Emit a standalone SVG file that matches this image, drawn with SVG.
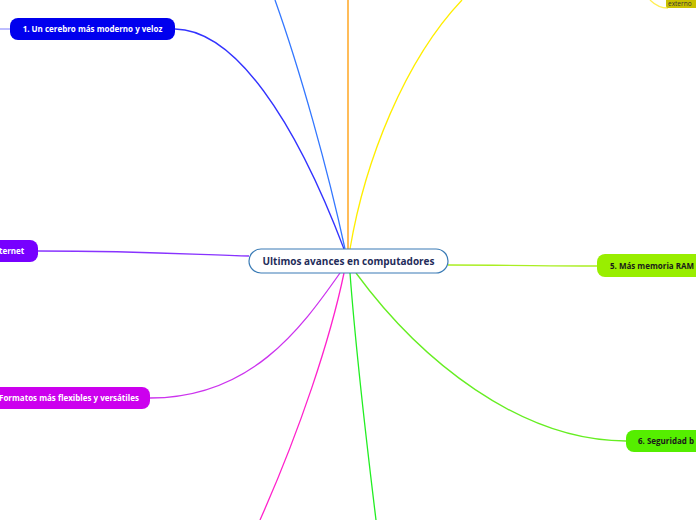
<svg xmlns="http://www.w3.org/2000/svg" width="696" height="520" viewBox="0 0 696 520">
<style>
.c{fill:none;stroke-width:1.3}
.t{font-family:"Open Sans","Noto Sans","Liberation Sans",sans-serif;font-weight:bold;font-size:8px;fill:#fff;text-anchor:middle}
.d{fill:#1a1a1a}
</style>
<rect width="696" height="520" fill="#fff"/>
<g id="connectors">
<path class="c" stroke="#9a9aff" d="M0,29 L10,29"/>
<path class="c" stroke="#3333ff" d="M175,29 C235,30 295,120 344,249"/>
<path class="c" stroke="#3377ff" d="M275,0 C300,70 328,170 345,249"/>
<path class="c" stroke="#ff9900" d="M348,0 L348,249"/>
<path class="c" stroke="#ffee00" d="M462,0 C405,60 365,160 350,249"/>
<path class="c" stroke="#ffee55" d="M650,0 C655,5 660,8 668,8"/>
<path class="c" stroke="#8833ff" d="M38,251 C150,251 200,255 249,256"/>
<path class="c" stroke="#cc33ee" d="M150,398 C250,398 300,330 340,273"/>
<path class="c" stroke="#ff22cc" d="M260,520 C300,430 330,340 344,273"/>
<path class="c" stroke="#22ee22" d="M376,520 C365,430 355,340 350,273"/>
<path class="c" stroke="#aaee22" d="M448,265 C520,265 540,266 597,266"/>
<path class="c" stroke="#66ee22" d="M356,273 C420,360 520,441 626,441"/>
</g>
<g id="center">
<rect x="249" y="249" width="199" height="24" rx="12" fill="#fff" stroke="#3a7bb5" stroke-width="1.2"/>
<text class="t" x="348.5" y="265" style="font-size:10px;fill:#1f2d5a">Ultimos avances en computadores</text>
</g>
<g id="n1">
<rect x="10" y="18" width="165" height="22" rx="8" fill="#0000ee"/>
<text class="t" x="92.5" y="32">1. Un cerebro más moderno y veloz</text>
</g>
<g id="n-internet">
<rect x="-40" y="240" width="78" height="22" rx="8" fill="#7700ff"/>
<text class="t" x="-1" y="254" style="text-anchor:start">ternet</text>
</g>
<g id="n-formatos">
<rect x="-20" y="387" width="170" height="22" rx="8" fill="#cc00ee"/>
<text class="t" x="-1" y="401" style="text-anchor:start">Formatos más flexibles y versátiles</text>
</g>
<g id="n5">
<rect x="597" y="254" width="120" height="23" rx="8" fill="#99ee00"/>
<text class="t d" x="610" y="269" style="text-anchor:start">5. Más memoria RAM</text>
</g>
<g id="n6">
<rect x="626" y="430" width="100" height="22" rx="8" fill="#55ee00"/>
<text class="t d" x="638" y="444" style="text-anchor:start">6. Seguridad b</text>
</g>
<g id="n-externo">
<rect x="666" y="-4" width="40" height="12" rx="2" fill="#c8c000"/>
<text class="t" x="668" y="6" style="text-anchor:start;font-weight:normal;font-size:6.5px;fill:#333">externo</text>
</g>
</svg>
